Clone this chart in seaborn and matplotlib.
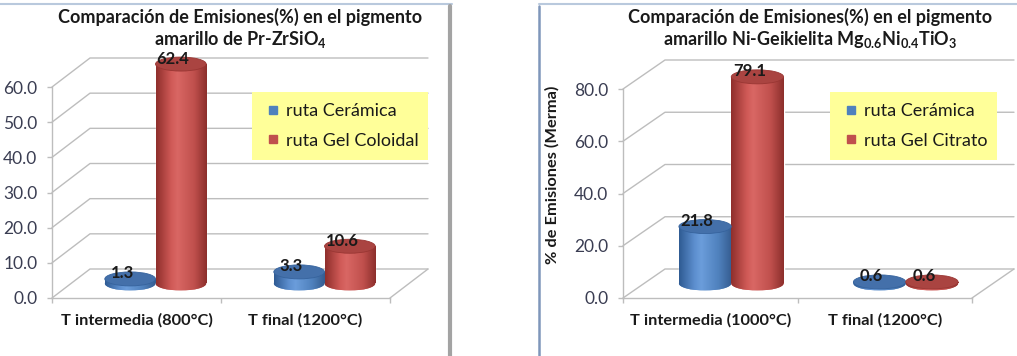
import numpy as np
import pandas as pd
import matplotlib
matplotlib.use("Agg")
import matplotlib.pyplot as plt
import seaborn as sns
from matplotlib.patches import Ellipse, Rectangle
from matplotlib.lines import Line2D
from matplotlib.transforms import ScaledTranslation
from matplotlib.colors import LinearSegmentedColormap

# ---------------- data ----------------
series_left = ["ruta Cerámica", "ruta Gel Coloidal"]
categories_left = ["T intermedia (800°C)", "T final (1200°C)"]
ceramica_left = [1.3, 3.3]
coloidal_left = [62.4, 10.6]
yticks_left = [0, 10, 20, 30, 40, 50, 60]
title_left = ["Comparación de Emisiones(%) en el pigmento",
              r"amarillo de Pr-ZrSiO$_{\mathbf{4}}$"]

series_right = ["ruta Cerámica", "ruta Gel Citrato"]
categories_right = ["T intermedia (1000°C)", "T final (1200°C)"]
ceramica_right = [21.8, 0.6]
citrato_right = [79.1, 0.6]
yticks_right = [0, 20, 40, 60, 80]
title_right = ["Comparación de Emisiones(%) en el pigmento",
               r"amarillo Ni-Geikielita Mg$_{\mathbf{0.6}}$Ni$_{\mathbf{0.4}}$TiO$_{\mathbf{3}}$"]
ylabel_right = "% de Emisiones (Merma)"

# ---------------- style ----------------
W, H, DPI = 1017, 356, 100
sns.set_theme(style="white")
plt.rcParams["font.family"] = ["Lato", "DejaVu Sans"]
plt.rcParams["mathtext.fontset"] = "custom"
plt.rcParams["mathtext.rm"] = "Lato"
plt.rcParams["mathtext.bf"] = "Lato:bold"

BLUE, RED = "#4F81BD", "#C0504D"
GRID = "#BDBDBD"
TEXT = "#1A1A1A"
TICKTXT = "#3A3D52"
LEGEND_BG = "#FFFF99"
CMAPS = [
    LinearSegmentedColormap.from_list("cyl_blue", [(0, "#2F5B93"), (0.3, "#5E90D0"), (0.42, "#6B9DDB"),
                                                   (0.75, "#4F81BD"), (1, "#355C90")]),
    LinearSegmentedColormap.from_list("cyl_red", [(0, "#8F2F2C"), (0.3, "#D05A57"), (0.42, "#D96764"),
                                                  (0.75, "#C0504D"), (1, "#8C2F2C")]),
]
TOPS = ["#4470AA", "#AA4441"]
ELL_PX = 14

fig = plt.figure(figsize=(W / DPI, H / DPI), dpi=DPI)


def draw_panel(rect_px, cats, vals_a, vals_b, series, yticks, depth_px, title, title_x,
               legend_px, ylabel=None):
    x0p, y0p, wp, hp = rect_px
    ax = fig.add_axes([x0p / W, y0p / H, wp / W, hp / H])
    df = pd.DataFrame({
        "Temperatura": list(cats) * 2,
        "Ruta": [series[0]] * len(cats) + [series[1]] * len(cats),
        "Emisiones": list(vals_a) + list(vals_b),
    })
    sns.barplot(data=df, x="Temperatura", y="Emisiones", hue="Ruta", order=cats,
                hue_order=series, palette=[BLUE, RED], width=0.6, saturation=1,
                errorbar=None, legend=False, ax=ax)
    ymax = yticks[-1]
    xlo, xhi = -0.5, len(cats) - 0.5
    ux = (xhi - xlo) / wp
    uy = ymax / hp
    ddx, ddy = depth_px[0] * ux, depth_px[1] * uy

    ax.set_facecolor("none")
    ax.grid(False)
    for side in ("top", "right"):
        ax.spines[side].set_visible(False)
    for side in ("left", "bottom"):
        ax.spines[side].set_color(GRID)
        ax.spines[side].set_linewidth(1)
    ax.set_xlabel("")
    ax.set_ylabel("")

    # back wall gridlines and floor
    for v in yticks:
        ax.plot([xlo, xlo + ddx, xhi + ddx], [v, v + ddy, v + ddy], color=GRID, lw=1,
                clip_on=False, zorder=1)
    ax.plot([xhi, xhi + ddx], [0, ddy], color=GRID, lw=1, clip_on=False, zorder=1)

    # ticks
    ax.set_yticks(yticks)
    ax.set_yticklabels([f"{v:.1f}" for v in yticks])
    ax.tick_params(axis="y", length=3.6, width=1, color=GRID, pad=7, labelsize=12.5,
                   labelcolor=TICKTXT, left=True)
    ax.set_xticks(range(len(cats)))
    ax.set_xticklabels(cats, fontweight="bold")
    ax.set_xticks(np.arange(xlo, xhi + 0.01, 1.0), minor=True)
    ax.tick_params(axis="x", which="major", length=0, pad=11, labelsize=11.8, labelcolor=TEXT)
    ax.tick_params(axis="x", which="minor", length=3.6, width=1, color=GRID, bottom=True)

    # cylinders
    mid = ax.transData + ScaledTranslation(depth_px[0] / 2 / DPI, depth_px[1] / 2 / DPI,
                                           fig.dpi_scale_trans)
    ell_h = ELL_PX * uy
    grad = np.linspace(0, 1, 128)[None, :]
    for container, cmap, top in zip(ax.containers, CMAPS, TOPS):
        for bar in container:
            bx, bw, bh = bar.get_x(), bar.get_width(), bar.get_height()
            cx = bx + bw / 2
            bar.set_transform(mid)
            bar.set_clip_on(False)
            bar.set_zorder(2.9)
            body = ax.imshow(grad, cmap=cmap, aspect="auto", extent=(bx, bx + bw, 0, bh),
                             transform=mid, zorder=3, interpolation="bilinear")
            body.set_clip_path(bar)
            base = Ellipse((cx, 0), bw, ell_h, transform=mid, facecolor=cmap(0.6),
                           edgecolor="none", zorder=2.9, clip_on=False)
            ax.add_patch(base)
            base_img = ax.imshow(grad, cmap=cmap, aspect="auto",
                                 extent=(bx, bx + bw, -ell_h / 2, ell_h / 2),
                                 transform=mid, zorder=3, interpolation="bilinear")
            base_img.set_clip_path(base)
            base_img.set_clip_box(None)
            ax.add_patch(Ellipse((cx, bh), bw, ell_h, transform=mid, facecolor=top,
                                 edgecolor=cmap(0.05), lw=0.6, zorder=4, clip_on=False))
            ax.text(cx - 8 * ux, bh + ell_h / 2 - 1.5 * uy, f"{bh:.1f}", transform=mid,
                    ha="center", va="center", fontsize=12, fontweight="bold", color=TEXT,
                    zorder=6, clip_on=False)

    ax.set_xlim(xlo, xhi)
    ax.set_ylim(0, ymax)

    # legend: yellow box with the two series
    lx0, ly0, lx1, ly1 = legend_px
    ax.add_patch(Rectangle((lx0 / W, 1 - ly1 / H), (lx1 - lx0) / W, (ly1 - ly0) / H,
                           transform=fig.transFigure, facecolor=LEGEND_BG,
                           edgecolor="none", zorder=6, clip_on=False))
    handles = [Line2D([], [], marker="s", linestyle="none", markersize=5.8,
                      markerfacecolor=c, markeredgecolor=c) for c in (BLUE, RED)]
    leg = ax.legend(handles, series, loc="center left",
                    bbox_to_anchor=((lx0 + 8) / W, 1 - (ly0 + ly1) / 2 / H),
                    bbox_transform=fig.transFigure, fontsize=13,
                    handlelength=1.4, handletextpad=0.05, labelspacing=0.75, borderpad=0,
                    borderaxespad=0, frameon=False)
    for t in leg.get_texts():
        t.set_color(TEXT)
    leg.set_zorder(7)

    # title
    fig.text(title_x / W, 1 - 17 / H, title[0], ha="center", va="center", fontsize=13,
             fontweight="bold", color=TEXT)
    fig.text(title_x / W, 1 - 39 / H, title[1], ha="center", va="center", fontsize=13,
             fontweight="bold", color=TEXT)
    if ylabel:
        fig.text(552 / W, 1 - 175 / H, ylabel, rotation=90, ha="center", va="center",
                 fontsize=11.8, fontweight="bold", color=TEXT)
    return ax


draw_panel((52, 58, 338, 211), categories_left, ceramica_left, coloidal_left, series_left,
           yticks_left, (38, 29), title_left, 240, (252, 92, 428, 160))
draw_panel((623, 58, 349, 209), categories_right, ceramica_right, citrato_right, series_right,
           yticks_right, (42, 29), title_right, 810, (830, 92, 997, 160), ylabel_right)

# panel frames
fig.add_artist(Line2D([0, 452 / W], [1 - 4 / H] * 2, color="#B9C9DD", lw=1.5,
                      transform=fig.transFigure))
fig.add_artist(Line2D([450 / W] * 2, [0, 1 - 6 / H], color="#A3A3A3", lw=3,
                      transform=fig.transFigure))
fig.add_artist(Line2D([539 / W, 1], [1 - 4 / H] * 2, color="#B9C9DD", lw=1.5,
                      transform=fig.transFigure))
fig.add_artist(Line2D([539 / W] * 2, [0, 1 - 6 / H], color="#7F96BA", lw=1.8,
                      transform=fig.transFigure))

fig.savefig("out.png", dpi=DPI)
